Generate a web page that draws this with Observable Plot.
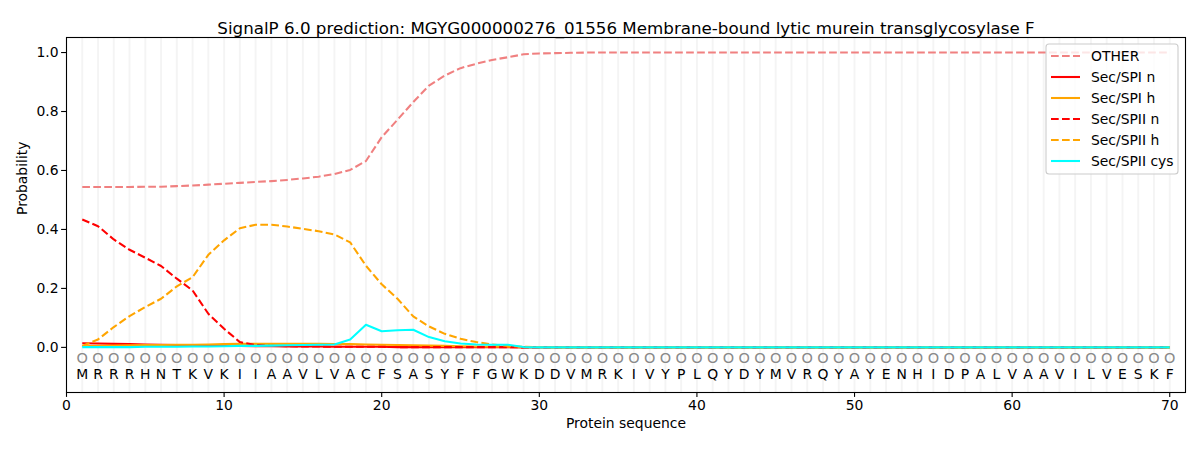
<!DOCTYPE html>
<html>
<head>
<meta charset="utf-8">
<script src="https://cdn.jsdelivr.net/npm/d3@7"></script>
<script src="https://cdn.jsdelivr.net/npm/@observablehq/plot@0.6"></script>
<style>
  html, body { margin: 0; padding: 0; background: white; }
  #chart { width: 1200px; height: 450px; }
</style>
</head>
<body>
<div id="chart"></div>
<script>
const titleText = "SignalP 6.0 prediction: MGYG000000276_01556 Membrane-bound lytic murein transglycosylase F";
const sequence = "MRRRHNTKVKIIAAVLVACFSASYFFGWKDDVMRKIVYPLQYDYMVRQYAYENHIDPALVAAVILVESKF".split("");
const positions = [1,2,3,4,5,6,7,8,9,10,11,12,13,14,15,16,17,18,19,20,21,22,23,24,25,26,27,28,29,30,31,32,33,34,35,36,37,38,39,40,41,42,43,44,45,46,47,48,49,50,51,52,53,54,55,56,57,58,59,60,61,62,63,64,65,66,67,68,69,70];
const xTicks = [0,10,20,30,40,50,60,70];
const yTicks = [0,0.2,0.4,0.6,0.8,1.0];

const other = [0.544,0.544,0.544,0.544,0.545,0.545,0.547,0.549,0.552,0.555,0.558,0.561,0.564,0.568,0.573,0.579,0.588,0.602,0.632,0.713,0.772,0.832,0.888,0.922,0.947,0.962,0.975,0.984,0.994,0.997,0.998,0.999,1.0,1.0,1.0,1.0,1.0,1.0,1.0,1.0,1.0,1.0,1.0,1.0,1.0,1.0,1.0,1.0,1.0,1.0,1.0,1.0,1.0,1.0,1.0,1.0,1.0,1.0,1.0,1.0,1.0,1.0,1.0,1.0,1.0,1.0,1.0,1.0,1.0,1.0];
const spiN = [0.014,0.013,0.012,0.011,0.010,0.009,0.008,0.007,0.006,0.006,0.005,0.004,0.004,0.003,0.003,0.003,0.002,0.002,0.002,0.002,0.001,0.001,0.001,0.001,0.001,0.001,0.001,0.001,0,0,0,0,0,0,0,0,0,0,0,0,0,0,0,0,0,0,0,0,0,0,0,0,0,0,0,0,0,0,0,0,0,0,0,0,0,0,0,0,0,0];
const spiH = [0.004,0.005,0.006,0.007,0.008,0.008,0.009,0.009,0.010,0.011,0.012,0.012,0.012,0.012,0.012,0.012,0.011,0.011,0.010,0.009,0.008,0.007,0.006,0.005,0.004,0.003,0.002,0.002,0.001,0.001,0,0,0,0,0,0,0,0,0,0,0,0,0,0,0,0,0,0,0,0,0,0,0,0,0,0,0,0,0,0,0,0,0,0,0,0,0,0,0,0];
const spiiN = [0.434,0.411,0.366,0.331,0.304,0.276,0.233,0.193,0.114,0.063,0.018,0.008,0.005,0.004,0.003,0.003,0.002,0.002,0.002,0.002,0.001,0.001,0.001,0.001,0.001,0.001,0.001,0.001,0,0,0,0,0,0,0,0,0,0,0,0,0,0,0,0,0,0,0,0,0,0,0,0,0,0,0,0,0,0,0,0,0,0,0,0,0,0,0,0,0,0];
const spiiH = [0.005,0.027,0.069,0.106,0.137,0.165,0.207,0.238,0.314,0.363,0.404,0.416,0.416,0.410,0.402,0.394,0.383,0.356,0.277,0.214,0.165,0.105,0.071,0.046,0.029,0.018,0.010,0.005,0.002,0.001,0,0,0,0,0,0,0,0,0,0,0,0,0,0,0,0,0,0,0,0,0,0,0,0,0,0,0,0,0,0,0,0,0,0,0,0,0,0,0,0];
const spiiCys = [0.001,0.001,0.001,0.001,0.002,0.002,0.002,0.003,0.003,0.004,0.005,0.005,0.006,0.007,0.008,0.009,0.010,0.027,0.077,0.055,0.058,0.060,0.035,0.021,0.013,0.010,0.009,0.009,0.001,0,0,0,0,0,0,0,0,0,0,0,0,0,0,0,0,0,0,0,0,0,0,0,0,0,0,0,0,0,0,0,0,0,0,0,0,0,0,0,0,0];

const DASH = "7.7,3.3";
const seriesDefs = [
  {name: "OTHER", values: other, color: "#f08080", dash: DASH},
  {name: "Sec/SPI n", values: spiN, color: "#ff0000", dash: null},
  {name: "Sec/SPI h", values: spiH, color: "#ffa500", dash: null},
  {name: "Sec/SPII n", values: spiiN, color: "#ff0000", dash: DASH},
  {name: "Sec/SPII h", values: spiiH, color: "#ffa500", dash: DASH},
  {name: "Sec/SPII cys", values: spiiCys, color: "#00ffff", dash: null}
];

const residues = positions.map((p, i) => ({pos: p, aa: sequence[i]}));

const lineMarks = seriesDefs.map(s =>
  Plot.line(positions.map((p, i) => ({pos: p, v: s.values[i]})), {
    x: "pos", y: "v", stroke: s.color, strokeWidth: 2.08,
    strokeDasharray: s.dash || undefined, strokeLinejoin: "round", strokeLinecap: "butt"
  })
);

const font = "DejaVu Sans, sans-serif";

const chart = Plot.plot({
  width: 1200,
  height: 450,
  marginLeft: 66,
  marginRight: 15,
  marginTop: 37,
  marginBottom: 58,
  style: {fontFamily: font, fontSize: "13.9px", background: "white", color: "black"},
  x: {domain: [0, 71]},
  y: {domain: [-0.153, 1.051]},
  marks: [
    Plot.ruleX(positions, {x: d => d, stroke: "#000", strokeOpacity: 0.045, strokeWidth: 2}),
    Plot.text(residues, {x: "pos", text: () => "O", frameAnchor: "bottom", dy: -30, fill: "#8a8a8a", fontSize: 14.5}),
    Plot.text(residues, {x: "pos", text: "aa", frameAnchor: "bottom", dy: -14, fill: "black", fontSize: 13.9}),
    ...lineMarks,
    Plot.frame({stroke: "black", strokeWidth: 1.1}),
    Plot.axisX({ticks: xTicks, tickSize: 4.9, tickPadding: 3, label: null, fontSize: 13.9, strokeWidth: 1.1}),
    Plot.axisY({ticks: yTicks, tickFormat: d3.format(".1f"), tickSize: 4.9, tickPadding: 3, label: null, fontSize: 13.9, strokeWidth: 1.1}),
    Plot.text([titleText], {text: d => d, frameAnchor: "top", dy: -15, fontSize: 16.7, fill: "black"}),
    Plot.text(["Protein sequence"], {text: d => d, frameAnchor: "bottom", dy: 35, fontSize: 13.9, fill: "black"}),
    Plot.text(["Probability"], {text: d => d, frameAnchor: "left", dx: -44, rotate: -90, fontSize: 13.9, fill: "black"})
  ]
});

document.getElementById("chart").appendChild(chart);

// Legend (matplotlib-style, upper right)
const svg = d3.select(chart);
const lg = svg.append("g").attr("font-family", font).attr("font-size", 13.9).attr("text-anchor", "start");
const lx = 1046, ly = 44, lw = 132, lh = 130;
lg.append("rect").attr("x", lx).attr("y", ly).attr("width", lw).attr("height", lh)
  .attr("rx", 3).attr("fill", "white").attr("fill-opacity", 0.8).attr("stroke", "#cccccc").attr("stroke-width", 1.1);
seriesDefs.forEach((s, i) => {
  const yy = 56 + i * 21;
  lg.append("line").attr("x1", 1051).attr("x2", 1080).attr("y1", yy).attr("y2", yy)
    .attr("stroke", s.color).attr("stroke-width", 2.08).attr("stroke-dasharray", s.dash);
  lg.append("text").attr("x", 1091).attr("y", yy).attr("dy", "0.35em").attr("fill", "black")
    .attr("text-anchor", "start").text(s.name);
});
</script>
</body>
</html>
